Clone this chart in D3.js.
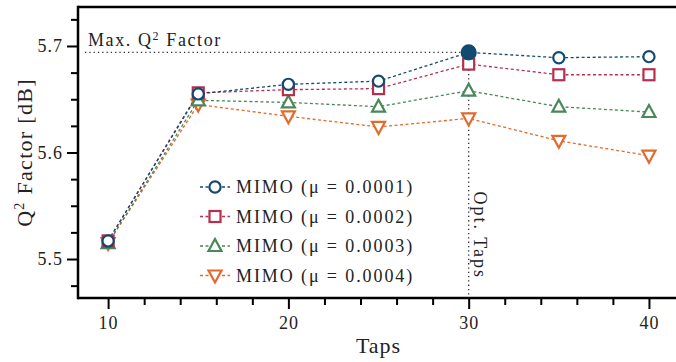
<!DOCTYPE html>
<html>
<head>
<meta charset="utf-8">
<script src="https://cdn.jsdelivr.net/npm/d3@7"></script>
<style>
  body { margin: 0; background: #fff; }
  svg text { font-family: "Liberation Serif", "DejaVu Serif", serif; fill: #222; }
</style>
</head>
<body>
<div class="chart"></div>
<script>
// chart data
var taps = [10, 15, 20, 25, 30, 35, 40];
var mu1 = [5.517, 5.655, 5.664, 5.667, 5.694, 5.689, 5.690];
var mu2 = [5.517, 5.656, 5.659, 5.660, 5.683, 5.673, 5.673];
var mu3 = [5.515, 5.649, 5.647, 5.643, 5.658, 5.643, 5.638];
var mu4 = [5.515, 5.645, 5.634, 5.624, 5.632, 5.611, 5.597];
var seriesNames = ["MIMO (\u03bc = 0.0001)", "MIMO (\u03bc = 0.0002)", "MIMO (\u03bc = 0.0003)", "MIMO (\u03bc = 0.0004)"];
var xTicks = [10, 20, 30, 40];
var yTicks = [5.5, 5.6, 5.7];
var optTaps = 30;
var maxQ = 5.694;

var svgWidth = 676;
var svgHeight = 362;

var margin = { top: 7, right: 0, bottom: 64, left: 78 };
var width = svgWidth - margin.left - margin.right;
var height = svgHeight - margin.top - margin.bottom;

var colors = ["#134a70", "#b5304e", "#4a8759", "#e3692c"];
var shapes = ["circle", "square", "up", "down"];
var serif = "Liberation Serif, DejaVu Serif, serif";

var series = [mu1, mu2, mu3, mu4].map(function(vals, i) {
  return { name: seriesNames[i], color: colors[i], shape: shapes[i],
           values: vals.map(function(v, j) { return { x: taps[j], y: v }; }) };
});

var svg = d3.select(".chart").append("svg")
  .attr("width", svgWidth)
  .attr("height", svgHeight);

var chartGroup = svg.append("g")
  .attr("transform", `translate(${margin.left}, ${margin.top})`);

var xScale = d3.scaleLinear().domain([8.33, 41.5]).range([0, width]);
var yScale = d3.scaleLinear().domain([5.4634, 5.7366]).range([height, 0]);

// axes
var bottomAxis = d3.axisBottom(xScale).tickValues(xTicks).tickSize(11).tickPadding(7).tickFormat(d3.format("d"));
var bottomMinor = d3.axisBottom(xScale).tickValues(d3.range(10, 41, 2).filter(d => d % 10 !== 0)).tickSize(7).tickFormat("");
var leftAxis = d3.axisLeft(yScale).tickValues(yTicks).tickSize(11).tickPadding(4).tickFormat(d3.format(".1f"));
var leftMinor = d3.axisLeft(yScale).tickValues([5.475, 5.525, 5.55, 5.575, 5.625, 5.65, 5.675, 5.725]).tickSize(7).tickFormat("");

function styleAxis(g) {
  g.attr("font-family", serif);
  g.select(".domain").remove();
  g.selectAll("line").attr("stroke", "#000").attr("stroke-width", 2);
  g.selectAll("text").style("font-size", "18px").style("letter-spacing", "1px").attr("fill", "#222");
}

chartGroup.append("g").attr("transform", `translate(0, ${height})`).call(bottomMinor).call(styleAxis);
chartGroup.append("g").attr("transform", `translate(0, ${height})`).call(bottomAxis).call(styleAxis);
chartGroup.append("g").call(leftMinor).call(styleAxis);
chartGroup.append("g").call(leftAxis).call(styleAxis);

// spines
chartGroup.append("line").attr("x1", 0).attr("x2", width).attr("y1", height).attr("y2", height)
  .attr("stroke", "#000").attr("stroke-width", 2.5);
chartGroup.append("line").attr("x1", 0).attr("x2", width).attr("y1", 0).attr("y2", 0)
  .attr("stroke", "#000").attr("stroke-width", 2.5);
chartGroup.append("line").attr("x1", 0).attr("x2", 0).attr("y1", -1.25).attr("y2", height + 1.25)
  .attr("stroke", "#000").attr("stroke-width", 2.5);

// reference lines
chartGroup.append("line")
  .attr("x1", 7).attr("x2", xScale(optTaps))
  .attr("y1", yScale(maxQ)).attr("y2", yScale(maxQ))
  .attr("stroke", "#333").attr("stroke-width", 1.3).attr("stroke-dasharray", "1.3,3");
chartGroup.append("line")
  .attr("x1", xScale(optTaps)).attr("x2", xScale(optTaps))
  .attr("y1", yScale(maxQ)).attr("y2", height)
  .attr("stroke", "#333").attr("stroke-width", 1.3).attr("stroke-dasharray", "1.3,3");

chartGroup.append("text")
  .attr("x", 10).attr("y", yScale(maxQ) - 6)
  .attr("font-family", serif)
  .style("font-size", "18px").style("letter-spacing", "1.6px")
  .html("Max. Q<tspan dy='-6' font-size='12px'>2</tspan><tspan dy='6'> Factor</tspan>");

chartGroup.append("text")
  .attr("transform", `translate(${xScale(optTaps) + 5}, ${yScale(5.6) + 39}) rotate(90)`)
  .attr("font-family", serif)
  .style("font-size", "18px").style("letter-spacing", "2px")
  .text("Opt. Taps");

// lines and markers
var line = d3.line().x(d => xScale(d.x)).y(d => yScale(d.y));

function drawMarker(g, shape, color, filled) {
  var fill = filled ? color : "#fff";
  if (shape === "circle") {
    g.append("circle").attr("r", filled ? 7 : 5.6);
  } else if (shape === "square") {
    g.append("rect").attr("x", -5.5).attr("y", -5.5).attr("width", 11).attr("height", 11);
  } else if (shape === "up") {
    g.append("path").attr("d", "M0,-7L6.5,5L-6.5,5Z");
  } else {
    g.append("path").attr("d", "M0,7L6.5,-5L-6.5,-5Z");
  }
  g.selectAll("*").attr("fill", fill).attr("stroke", color).attr("stroke-width", 2.2);
}

series.slice().reverse().forEach(function(s) {
  chartGroup.append("path")
    .datum(s.values)
    .attr("d", line)
    .attr("fill", "none")
    .attr("stroke", s.color)
    .attr("stroke-width", 1.3)
    .attr("stroke-dasharray", "3,2.5");
});

series.slice().reverse().forEach(function(s) {
  s.values.forEach(function(d) {
    var filled = s.shape === "circle" && d.x === optTaps;
    var g = chartGroup.append("g").attr("transform", `translate(${xScale(d.x)}, ${yScale(d.y)})`);
    drawMarker(g, s.shape, s.color, filled);
  });
});

// legend
var legend = chartGroup.append("g").attr("transform", "translate(122, 180)");
series.forEach(function(s, i) {
  var row = legend.append("g").attr("transform", `translate(0, ${i * 29.5})`);
  row.append("line").attr("x1", 0).attr("x2", 30).attr("y1", 0).attr("y2", 0)
    .attr("stroke", s.color).attr("stroke-width", 1.3).attr("stroke-dasharray", "3,2.5");
  var m = row.append("g").attr("transform", "translate(15, 0)");
  drawMarker(m, s.shape, s.color, false);
  row.append("text").attr("x", 36).attr("y", 6)
    .attr("font-family", serif)
    .style("font-size", "18px").style("letter-spacing", "1.9px")
    .text(s.name);
});

// axis labels
svg.append("text")
  .attr("x", margin.left + xScale(25)).attr("y", 353)
  .attr("text-anchor", "middle")
  .attr("font-family", serif)
  .style("font-size", "22px").style("letter-spacing", "1px")
  .text("Taps");

svg.append("text")
  .attr("transform", `translate(32, ${margin.top + yScale(5.6)}) rotate(-90)`)
  .attr("text-anchor", "middle")
  .attr("font-family", serif)
  .style("font-size", "22px").style("letter-spacing", "1.3px")
  .html("Q<tspan dy='-8' font-size='14px'>2</tspan><tspan dy='8'> Factor [dB]</tspan>");
</script>
</body>
</html>
